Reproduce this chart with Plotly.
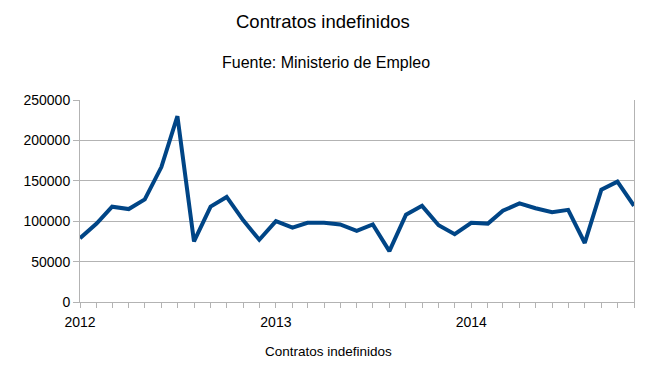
import pandas as pd
import plotly.graph_objects as go

months = [d.strftime("%Y-%m-%d") for d in pd.date_range("2012-01-01", "2014-11-01", freq="MS")]
contratos = [
    79000, 97000, 118000, 115000, 127000, 167000, 230000, 75000, 118000, 130000, 101000, 77000,
    100000, 92000, 98000, 98000, 96000, 88000, 96000, 63000, 108000, 119000, 95000, 84000,
    98000, 97000, 113000, 122000, 116000, 111000, 114000, 73000, 139000, 149000, 119000,
]
title_text = "Contratos indefinidos"
subtitle_text = "Fuente: Ministerio de Empleo"
xaxis_title = "Contratos indefinidos"

GRID = "#b3b3b3"
FONT = "Liberation Sans, Arial, sans-serif"

fig = go.Figure()
fig.add_trace(go.Scatter(
    x=months, y=contratos, mode="lines",
    line=dict(color="#004586", width=4),
    showlegend=False, hoverinfo="x+y",
))

fig.update_layout(
    width=660, height=373,
    margin=dict(l=79.5, r=25.5, t=100, b=71, pad=0),
    paper_bgcolor="white", plot_bgcolor="white",
    font=dict(family=FONT, color="black", size=14),
    annotations=[
        dict(text=title_text, xref="paper", yref="paper", x=(323 - 79.5) / 555, y=(302 - 21) / 202,
             xanchor="center", yanchor="middle", showarrow=False, font=dict(size=18.5, family=FONT)),
        dict(text=subtitle_text, xref="paper", yref="paper", x=(325.5 - 79.5) / 555, y=(302 - 62) / 202,
             xanchor="center", yanchor="middle", showarrow=False, font=dict(size=16, family=FONT)),
        dict(text=xaxis_title, xref="paper", yref="paper", x=(328 - 79.5) / 555, y=(302 - 351) / 202,
             xanchor="center", yanchor="middle", showarrow=False, font=dict(size=13.5, family=FONT)),
    ],
)

fig.update_xaxes(
    type="date", range=["2012-01-01", "2014-11-01"],
    tick0="2012-01-01", dtick="M12", tickformat="%Y",
    ticks="outside", ticklen=5, tickcolor=GRID, tickwidth=1,
    showgrid=False, showline=True, linecolor=GRID, linewidth=1,
    tickfont=dict(size=14, family=FONT),
    ticklabelstandoff=2,
    minor=dict(dtick="M1", tick0="2012-01-01", ticks="outside", ticklen=5, tickcolor=GRID, showgrid=False),
    zeroline=False,
)
fig.update_yaxes(
    range=[0, 250000], dtick=50000, tick0=0, tickformat="d",
    ticks="outside", ticklen=6, tickcolor=GRID, tickwidth=1,
    showgrid=True, gridcolor=GRID, gridwidth=1,
    showline=True, linecolor=GRID, linewidth=1, mirror=True,
    tickfont=dict(size=14, family=FONT),
    zeroline=False,
)

fig.write_html("out.html", config={"displayModeBar": False},
               post_script="document.body.style.margin='0';")
